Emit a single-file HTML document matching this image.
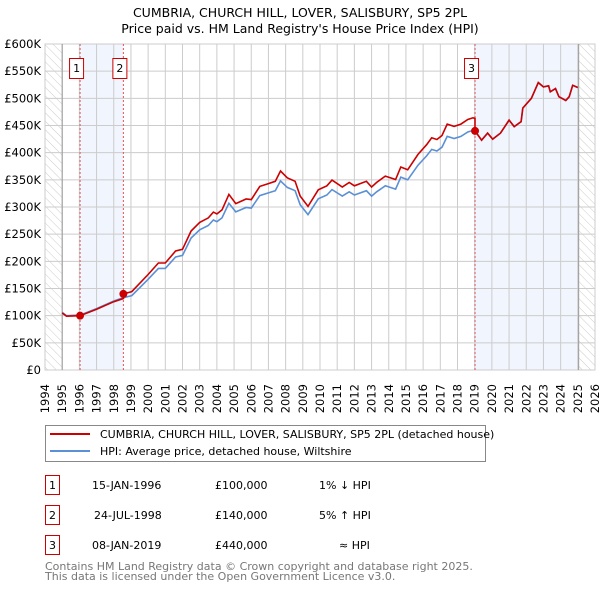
<!DOCTYPE html>
<html><head><meta charset="utf-8">
<style>
body{margin:0;background:#fff;font-family:"DejaVu Sans","Liberation Sans",sans-serif;}
svg text{font-family:"DejaVu Sans","Liberation Sans",sans-serif;}
</style></head>
<body>
<svg id="chart" width="600" height="590" viewBox="0 0 600 590" xmlns="http://www.w3.org/2000/svg">
<defs>
<pattern id="hatch" width="6" height="6" patternUnits="userSpaceOnUse" patternTransform="rotate(-45)">
<line x1="0" y1="0" x2="0" y2="6" stroke="#ccc" stroke-width="1"/>
</pattern>
</defs>
<text x="300" y="17" text-anchor="middle" font-size="12.5" fill="#000">CUMBRIA, CHURCH HILL, LOVER, SALISBURY, SP5 2PL</text>
<text x="300" y="33" text-anchor="middle" font-size="12.5" fill="#000">Price paid vs. HM Land Registry's House Price Index (HPI)</text>
<g id="plot"></g>
<g>
<rect x="45.5" y="425.5" width="440" height="36" fill="#fff" stroke="#888"/>
<line x1="50" y1="434" x2="90" y2="434" stroke="#cc0000" stroke-width="2"/>
<text x="100" y="438" font-size="11">CUMBRIA, CHURCH HILL, LOVER, SALISBURY, SP5 2PL (detached house)</text>
<line x1="50" y1="451" x2="90" y2="451" stroke="#5b8fd6" stroke-width="2"/>
<text x="100" y="455" font-size="11">HPI: Average price, detached house, Wiltshire</text>
</g>
<g font-size="11">
<rect x="45.5" y="475.5" width="14" height="19" fill="#fff" stroke="#cc0000"/>
<text x="52.5" y="489" text-anchor="middle">1</text>
<text x="92" y="489">15-JAN-1996</text>
<text x="215" y="489">£100,000</text>
<text x="319" y="489">1% ↓ HPI</text>
<rect x="45.5" y="505.5" width="14" height="19" fill="#fff" stroke="#cc0000"/>
<text x="52.5" y="519" text-anchor="middle">2</text>
<text x="94" y="519">24-JUL-1998</text>
<text x="215" y="519">£140,000</text>
<text x="319" y="519">5% ↑ HPI</text>
<rect x="45.5" y="535.5" width="14" height="19" fill="#fff" stroke="#cc0000"/>
<text x="52.5" y="549" text-anchor="middle">3</text>
<text x="92" y="549">08-JAN-2019</text>
<text x="215" y="549">£440,000</text>
<text x="339" y="549">≈ HPI</text>
</g>
<text x="45" y="570" font-size="11" fill="#777">Contains HM Land Registry data © Crown copyright and database right 2025.</text>
<text x="45" y="580" font-size="11" fill="#777">This data is licensed under the Open Government Licence v3.0.</text>
</svg>
<script>
const hpiYears = [1995.0,1995.25,1996.04,1997.0,1998.0,1998.56,1999.05,2000.0,2000.6,2001.0,2001.6,2002.0,2002.5,2003.0,2003.5,2003.8,2004.0,2004.3,2004.7,2005.1,2005.7,2006.0,2006.5,2007.0,2007.4,2007.7,2008.1,2008.55,2008.85,2009.3,2009.9,2010.4,2010.7,2011.3,2011.7,2012.0,2012.7,2013.0,2013.3,2013.8,2014.4,2014.7,2015.1,2015.7,2016.2,2016.5,2016.8,2017.1,2017.4,2017.8,2018.2,2018.6,2018.9,2019.02,2019.4,2019.75,2020.05,2020.5,2021.0,2021.3,2021.7,2021.8,2022.3,2022.7,2023.0,2023.3,2023.4,2023.7,2023.9,2024.3,2024.5,2024.7,2025.0];
const hpiValues = [106,100,101,113,127,133,137,167,187,187,208,211,243,258,266,276,273,280,307,291,299,298,321,326,330,348,336,330,304,286,315,322,332,320,328,322,330,320,328,339,333,355,350,377,394,406,403,410,430,426,430,438,441,440,423,436,425,436,460,448,457,482,500,529,521,523,512,518,503,496,503,524,520];
const saleYears = [1996.04,1998.56,2019.02];
const salePrices = [100,140,440];
const saleLabels = ["1","2","3"];
const yTicks = [0,50,100,150,200,250,300,350,400,450,500,550,600];
const yTickLabels = ["£0","£50K","£100K","£150K","£200K","£250K","£300K","£350K","£400K","£450K","£500K","£550K","£600K"];
const xTicks = [1994,1995,1996,1997,1998,1999,2000,2001,2002,2003,2004,2005,2006,2007,2008,2009,2010,2011,2012,2013,2014,2015,2016,2017,2018,2019,2020,2021,2022,2023,2024,2025,2026];
const dataStart = 1995.0, dataEnd = 2025.05;

const NS="http://www.w3.org/2000/svg";
const L=45,R=595,T=44,B=370;
const xs=y=>L+(y-1994)/(2026-1994)*(R-L);
const ys=v=>B-v/600*(B-T);
const plot=document.getElementById('plot');
function mk(tag,attrs,parent){const e=document.createElementNS(NS,tag);for(const k in attrs)e.setAttribute(k,attrs[k]);(parent||plot).appendChild(e);return e;}

let e;
e=mk('rect',{x:L,y:T,width:R-L,height:B-T,fill:'#fff'});


e=mk('rect',{x:L,y:T,width:xs(dataStart)-L,height:B-T,fill:'url(#hatch)'});


e=mk('rect',{x:xs(dataEnd),y:T,width:R-xs(dataEnd),height:B-T,fill:'url(#hatch)'});


e=mk('rect',{x:xs(saleYears[0]),y:T,width:xs(saleYears[1])-xs(saleYears[0]),height:B-T,fill:'#eef3fd',opacity:0.8});


e=mk('rect',{x:xs(saleYears[2]),y:T,width:xs(dataEnd)-xs(saleYears[2]),height:B-T,fill:'#eef3fd',opacity:0.8});


yTicks.forEach((v,i)=>{
  e=mk('line',{x1:L,x2:R,y1:ys(v),y2:ys(v),stroke:'#ccc','stroke-width':1});
  
  
  e=mk('text',{x:L-4,y:ys(v)+4,'text-anchor':'end','font-size':11.5,fill:'#000'});
  e.textContent=yTickLabels[i];
  
  
});
xTicks.forEach(y=>{
  e=mk('line',{x1:xs(y),x2:xs(y),y1:T,y2:B,stroke:'#ccc','stroke-width':1});
  
  
  const tx=xs(y)+4, ty=B+14;
  e=mk('text',{x:tx,y:ty,'text-anchor':'end','font-size':11.5,fill:'#000',transform:`rotate(-90 ${tx} ${ty})`});
  e.textContent=y;
  
  
});
e=mk('rect',{x:L,y:T,width:R-L,height:B-T,fill:'none',stroke:'#ccc'});


e=mk('line',{x1:xs(dataStart),x2:xs(dataStart),y1:T,y2:B,stroke:'#999'});


e=mk('line',{x1:xs(dataEnd),x2:xs(dataEnd),y1:T,y2:B,stroke:'#999'});


saleYears.forEach((sy,i)=>{
  e=mk('line',{x1:xs(sy),x2:xs(sy),y1:T,y2:B,stroke:'#e05555','stroke-dasharray':'2,2','stroke-width':1});
  
  
  const bx=xs(sy)-10.5;
  e=mk('rect',{x:bx,y:58.5,width:14,height:20,fill:'#fff',stroke:'#cc0000'});
  
  
  e=mk('text',{x:bx+7,y:72,'text-anchor':'middle','font-size':11});
  e.textContent=saleLabels[i];
  
  
});
function hpiAt(y){for(let i=0;i<hpiYears.length-1;i++){if(y>=hpiYears[i]&&y<=hpiYears[i+1]){const t=(y-hpiYears[i])/(hpiYears[i+1]-hpiYears[i]);return hpiValues[i]+t*(hpiValues[i+1]-hpiValues[i]);}}return hpiValues[hpiValues.length-1];}
const ratios=saleYears.map((y,i)=>salePrices[i]/hpiAt(y));
function ratioFor(y){let r=ratios[0];for(let i=0;i<saleYears.length;i++){if(y>=saleYears[i]-1e-6)r=ratios[i];}return r;}
e=mk('path',{d:hpiYears.map((y,i)=>(i?'L':'M')+xs(y).toFixed(1)+','+ys(hpiValues[i]).toFixed(1)).join(''),fill:'none',stroke:'#5b8fd6','stroke-width':1.6});


let d='';
hpiYears.forEach((y,i)=>{
  const r=ratioFor(y);
  const si=saleYears.findIndex(s=>Math.abs(s-y)<1e-6);
  if(si>0){const prev=ratios[si-1];d+='L'+xs(y).toFixed(1)+','+ys(hpiValues[i]*prev).toFixed(1);}
  d+=(i?'L':'M')+xs(y).toFixed(1)+','+ys(hpiValues[i]*r).toFixed(1);
});
e=mk('path',{d:d,fill:'none',stroke:'#cc0000','stroke-width':1.6});


saleYears.forEach((sy,i)=>{
  e=mk('circle',{cx:xs(sy),cy:ys(salePrices[i]),r:4,fill:'#cc0000'});
  
  
});
</script>
</body></html>
